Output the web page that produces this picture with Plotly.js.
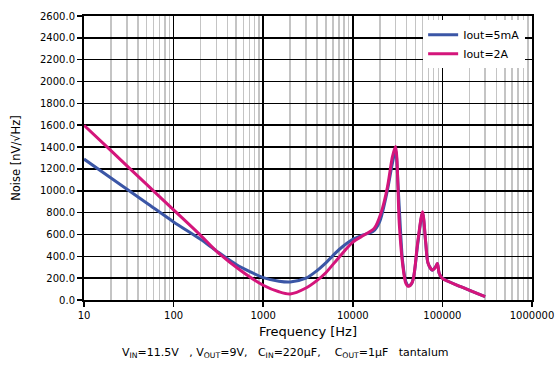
<!DOCTYPE html>
<html>
<head>
<meta charset="utf-8">
<script src="https://cdn.plot.ly/plotly-3.0.1.min.js"></script>
<style>html,body{margin:0;padding:0;background:#fff;}#chart{width:558px;height:365px;}</style>
</head>
<body>
<div id="chart"></div>
<script>
// Iout = 5mA
var freq5mA = [10, 20, 50, 100, 200, 300, 500, 700, 1000, 1500, 2000, 3000, 4000, 5000, 7000, 10000, 13000, 17000, 20000, 24000, 27500, 30000, 32000, 34000, 36000, 39000, 42000, 45000, 48000, 53000, 60000, 65000, 69000, 77000, 84000, 88000, 92000, 100000, 160000, 300000];
var noise5mA = [1290, 1117, 888, 715, 555, 450, 325, 262, 205, 172, 165, 200, 270, 340, 460, 555, 595, 630, 720, 980, 1240, 1370, 1050, 650, 350, 170, 130, 145, 220, 510, 795, 530, 340, 272, 305, 335, 245, 200, 122, 30];
// Iout = 2A
var freq2A = [10, 20, 50, 100, 200, 300, 560, 1000, 1500, 2000, 3000, 4000, 5000, 7000, 10000, 13400, 17400, 20600, 24400, 27700, 30000, 33000, 35900, 39100, 41900, 46400, 52800, 60000, 65300, 69300, 77500, 84400, 88000, 92000, 100000, 160000, 300000];
var noise2A = [1600, 1367, 1058, 825, 592, 448, 270, 135, 75, 55, 110, 180, 250, 390, 530, 595, 656, 793, 1037, 1312, 1405, 700, 335, 153, 125, 168, 518, 809, 518, 335, 275, 305, 335, 245, 198, 122, 30];

var seriesNames = ["Iout=5mA", "Iout=2A"];
var xTickVals = [10, 100, 1000, 10000, 100000, 1000000];
var xTickText = ["10", "100", "1000", "10000", "100000", "1000000"];

var traces = [
  {x: freq5mA, y: noise5mA, name: seriesNames[0], type: 'scatter', mode: 'lines',
   line: {color: '#3b56a6', width: 3, shape: 'spline', smoothing: 0.8}},
  {x: freq2A, y: noise2A, name: seriesNames[1], type: 'scatter', mode: 'lines',
   line: {color: '#d4157b', width: 3, shape: 'spline', smoothing: 0.8}}
];

var layout = {
  width: 558, height: 365,
  margin: {l: 84, r: 26, t: 16, b: 65},
  paper_bgcolor: '#fff', plot_bgcolor: '#fff',
  font: {family: 'DejaVu Sans, sans-serif', size: 10, color: '#000'},
  showlegend: true,
  legend: {x: 0.757, xanchor: 'left', y: 0.985, yanchor: 'top', bgcolor: '#fff',
           font: {size: 11}, borderwidth: 0, tracegroupgap: 0},
  xaxis: {
    type: 'log', range: [1, 6],
    tickvals: xTickVals, ticktext: xTickText,
    showgrid: true, gridcolor: '#000', gridwidth: 1.5,
    minor: {showgrid: true, gridcolor: '#c4c4c4', gridwidth: 1.5, dtick: 'D1', ticks: ''},
    showline: true, linecolor: '#000', linewidth: 2, mirror: true,
    ticks: 'outside', ticklen: 5, tickcolor: '#000', tickwidth: 1.5,
    tickfont: {size: 10},
    zeroline: false,
    title: {text: 'Frequency [Hz]', font: {size: 13}, standoff: 7}
  },
  yaxis: {
    range: [0, 2600], dtick: 200, tickformat: '.1f',
    showgrid: true, gridcolor: '#000', gridwidth: 1.5,
    showline: true, linecolor: '#000', linewidth: 2, mirror: true,
    ticks: 'outside', ticklen: 5, tickcolor: '#000', tickwidth: 1.5,
    tickfont: {size: 10},
    zeroline: false,
    title: {text: 'Noise [nV/√Hz]', font: {size: 11.5}, standoff: 17}
  },
  annotations: [{
    xref: 'paper', yref: 'paper', x: 0.449, y: -0.187, yanchor: 'middle', showarrow: false,
    text: 'V<sub>IN</sub>=11.5V&nbsp;&nbsp;&nbsp;,&nbsp;V<sub>OUT</sub>=9V,&nbsp;&nbsp;&nbsp;C<sub>IN</sub>=220µF,&nbsp;&nbsp;&nbsp;&nbsp;C<sub>OUT</sub>=1µF&nbsp;&nbsp;&nbsp;tantalum',
    font: {size: 11}
  }]
};

Plotly.newPlot('chart', traces, layout, {displayModeBar: false, staticPlot: true});
</script>
</body>
</html>
